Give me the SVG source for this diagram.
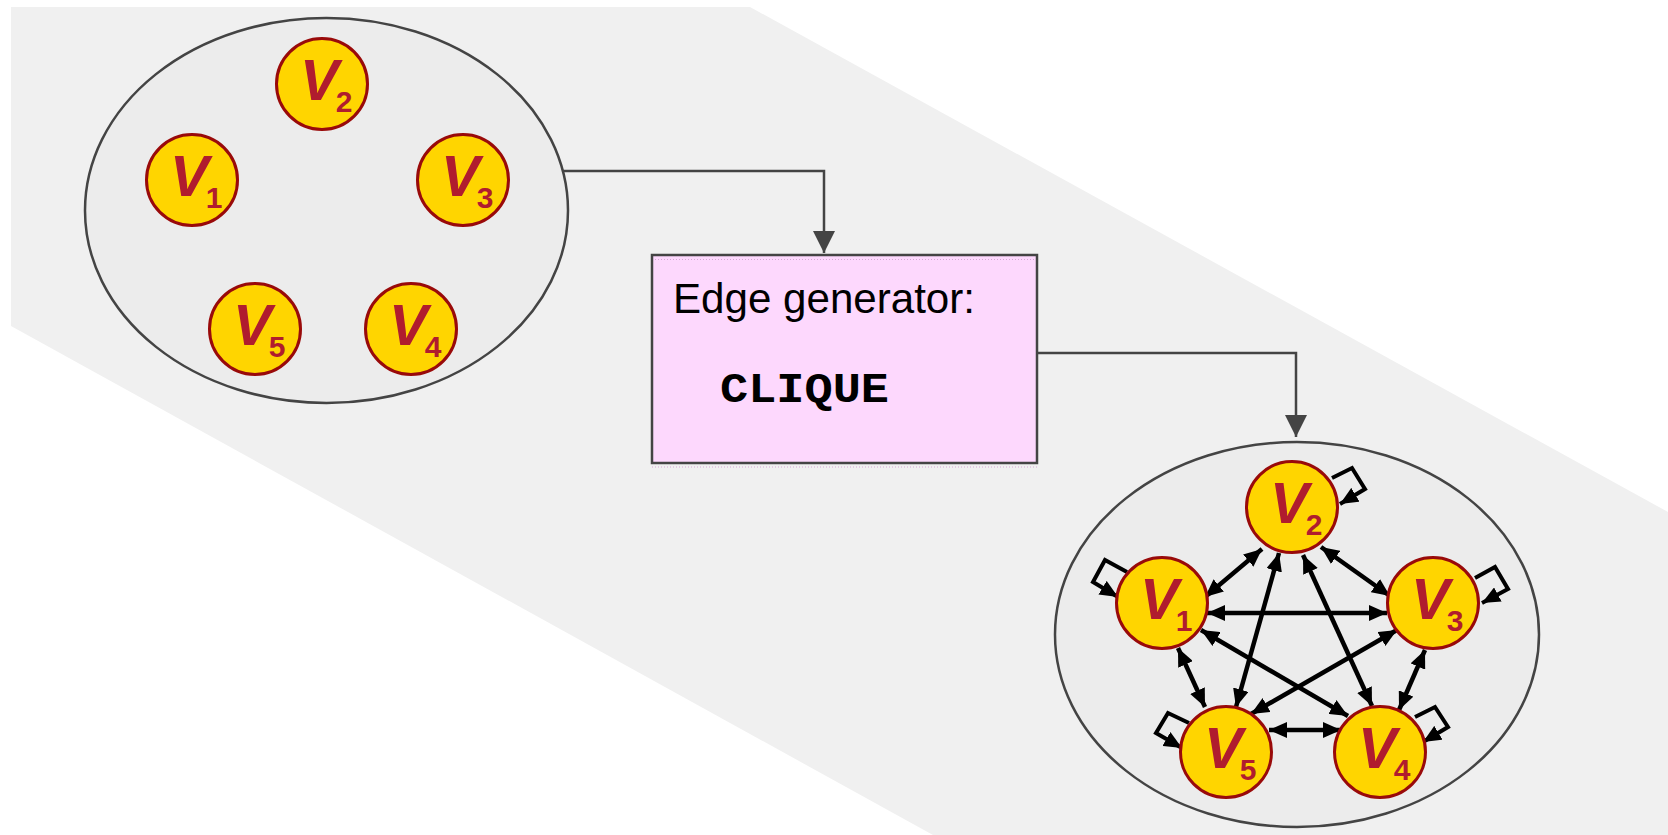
<svg xmlns="http://www.w3.org/2000/svg" width="1668" height="835" viewBox="0 0 1668 835">
  <style>
    .band { fill: #f0f0f0; }
    .cluster { fill: #ececec; stroke: #444444; stroke-width: 2.5; }
    .vertex circle { fill: #ffd500; stroke: #990a0a; stroke-width: 3; }
    .vname { font-family: "Liberation Sans", Arial, sans-serif; font-weight: bold; font-style: italic; font-size: 58px; fill: #b01c2e; }
    .vsub { font-style: normal; font-size: 30px; }
    .flow { fill: none; stroke: #444444; stroke-width: 2.5; }
    .edge { fill: none; stroke: #000000; stroke-width: 4.5; }
    .loop { fill: none; stroke: #000000; stroke-width: 4; stroke-linejoin: miter; }
    .gen { fill: #fdd8fd; stroke: #444444; stroke-width: 2.5; }
    .dots { fill: none; stroke: #d6a6d6; stroke-width: 1; stroke-dasharray: 1 2; }
    .label { font-family: "Liberation Sans", Arial, sans-serif; font-size: 42px; fill: #000000; }
    .code { font-family: "Liberation Mono", "Courier New", monospace; font-weight: bold; font-size: 42px; fill: #000000; }
  </style>
  <defs>
    <marker id="flowHead" markerUnits="userSpaceOnUse" markerWidth="22" markerHeight="22" refX="22" refY="11" orient="auto">
      <path d="M0,0 L22,11 L0,22 z" fill="#444444"/>
    </marker>
    <marker id="tip" markerUnits="userSpaceOnUse" markerWidth="18" markerHeight="16" refX="18" refY="8" orient="auto-start-reverse">
      <path d="M0,0 L18,8 L0,16 z" fill="#000000"/>
    </marker>
  </defs>

  <!-- slanted backdrop band -->
  <polygon class="band" points="11,7 750,7 1668,512 1668,835 933,835 11,326"/>

  <!-- vertex set, no edges -->
  <g id="vertex-set">
    <ellipse class="cluster" cx="326.5" cy="210.5" rx="241.5" ry="192.5"/>
    <g id="a-v1" class="vertex"><circle cx="192" cy="180" r="45.5"/><text class="vname" x="170" y="196">V<tspan class="vsub" dx="-3" dy="12">1</tspan></text></g>
    <g id="a-v2" class="vertex"><circle cx="322" cy="84" r="45.5"/><text class="vname" x="300" y="100">V<tspan class="vsub" dx="-3" dy="12">2</tspan></text></g>
    <g id="a-v3" class="vertex"><circle cx="463" cy="180" r="45.5"/><text class="vname" x="441" y="196">V<tspan class="vsub" dx="-3" dy="12">3</tspan></text></g>
    <g id="a-v4" class="vertex"><circle cx="411" cy="329" r="45.5"/><text class="vname" x="389" y="345">V<tspan class="vsub" dx="-3" dy="12">4</tspan></text></g>
    <g id="a-v5" class="vertex"><circle cx="255" cy="329" r="45.5"/><text class="vname" x="233" y="345">V<tspan class="vsub" dx="-3" dy="12">5</tspan></text></g>
  </g>

  <!-- edge generator step -->
  <g id="edge-generator">
    <rect class="gen" x="652" y="255" width="385" height="208"/>
    <line class="dots" x1="655" y1="259.5" x2="1034" y2="259.5"/>
    <line class="dots" x1="652" y1="467" x2="1037" y2="467"/>
    <text class="label" x="673" y="313" textLength="302" lengthAdjust="spacingAndGlyphs">Edge generator:</text>
    <text class="code" x="720" y="402" textLength="169" lengthAdjust="spacingAndGlyphs">CLIQUE</text>
  </g>

  <!-- resulting complete graph -->
  <g id="clique-graph">
    <ellipse class="cluster" cx="1297" cy="634.5" rx="242" ry="192.5"/>
  </g>

  <g id="connectors">
    <path class="flow" d="M563,171 H824 V253" marker-end="url(#flowHead)"/>
    <path class="flow" d="M1037,353 H1296 V437" marker-end="url(#flowHead)"/>

    <!-- clique edges, both directions -->
    <line class="edge" x1="1205" y1="597" x2="1262" y2="549" marker-start="url(#tip)" marker-end="url(#tip)"/>
    <line class="edge" x1="1207" y1="613" x2="1387" y2="613" marker-start="url(#tip)" marker-end="url(#tip)"/>
    <line class="edge" x1="1201" y1="630" x2="1348" y2="716" marker-start="url(#tip)" marker-end="url(#tip)"/>
    <line class="edge" x1="1178" y1="648" x2="1205" y2="707" marker-start="url(#tip)" marker-end="url(#tip)"/>
    <line class="edge" x1="1321" y1="547" x2="1390" y2="596" marker-start="url(#tip)" marker-end="url(#tip)"/>
    <line class="edge" x1="1303" y1="555" x2="1372" y2="706" marker-start="url(#tip)" marker-end="url(#tip)"/>
    <line class="edge" x1="1279" y1="553" x2="1236" y2="707" marker-start="url(#tip)" marker-end="url(#tip)"/>
    <line class="edge" x1="1425" y1="650" x2="1399" y2="710" marker-start="url(#tip)" marker-end="url(#tip)"/>
    <line class="edge" x1="1397" y1="630" x2="1251" y2="714" marker-start="url(#tip)" marker-end="url(#tip)"/>
    <line class="edge" x1="1341" y1="730" x2="1269" y2="730" marker-start="url(#tip)" marker-end="url(#tip)"/>

    <!-- self loops -->
    <polyline class="loop" points="1127,572 1105,560 1093,582 1118,597" marker-end="url(#tip)"/>
    <polyline class="loop" points="1332,478 1352,468 1365,489 1340,504" marker-end="url(#tip)"/>
    <polyline class="loop" points="1475,578 1495,567 1508,589 1482,603" marker-end="url(#tip)"/>
    <polyline class="loop" points="1415,717 1435,707 1448,727 1423,742" marker-end="url(#tip)"/>
    <polyline class="loop" points="1189,723 1168,713 1156,733 1182,748" marker-end="url(#tip)"/>
  </g>

  <g id="b-v1" class="vertex"><circle cx="1162" cy="603" r="45.5"/><text class="vname" x="1140" y="619">V<tspan class="vsub" dx="-3" dy="12">1</tspan></text></g>
  <g id="b-v2" class="vertex"><circle cx="1292" cy="507" r="45.5"/><text class="vname" x="1270" y="523">V<tspan class="vsub" dx="-3" dy="12">2</tspan></text></g>
  <g id="b-v3" class="vertex"><circle cx="1433" cy="603" r="45.5"/><text class="vname" x="1411" y="619">V<tspan class="vsub" dx="-3" dy="12">3</tspan></text></g>
  <g id="b-v4" class="vertex"><circle cx="1380" cy="752" r="45.5"/><text class="vname" x="1358" y="768">V<tspan class="vsub" dx="-3" dy="12">4</tspan></text></g>
  <g id="b-v5" class="vertex"><circle cx="1226" cy="752" r="45.5"/><text class="vname" x="1204" y="768">V<tspan class="vsub" dx="-3" dy="12">5</tspan></text></g>
</svg>
